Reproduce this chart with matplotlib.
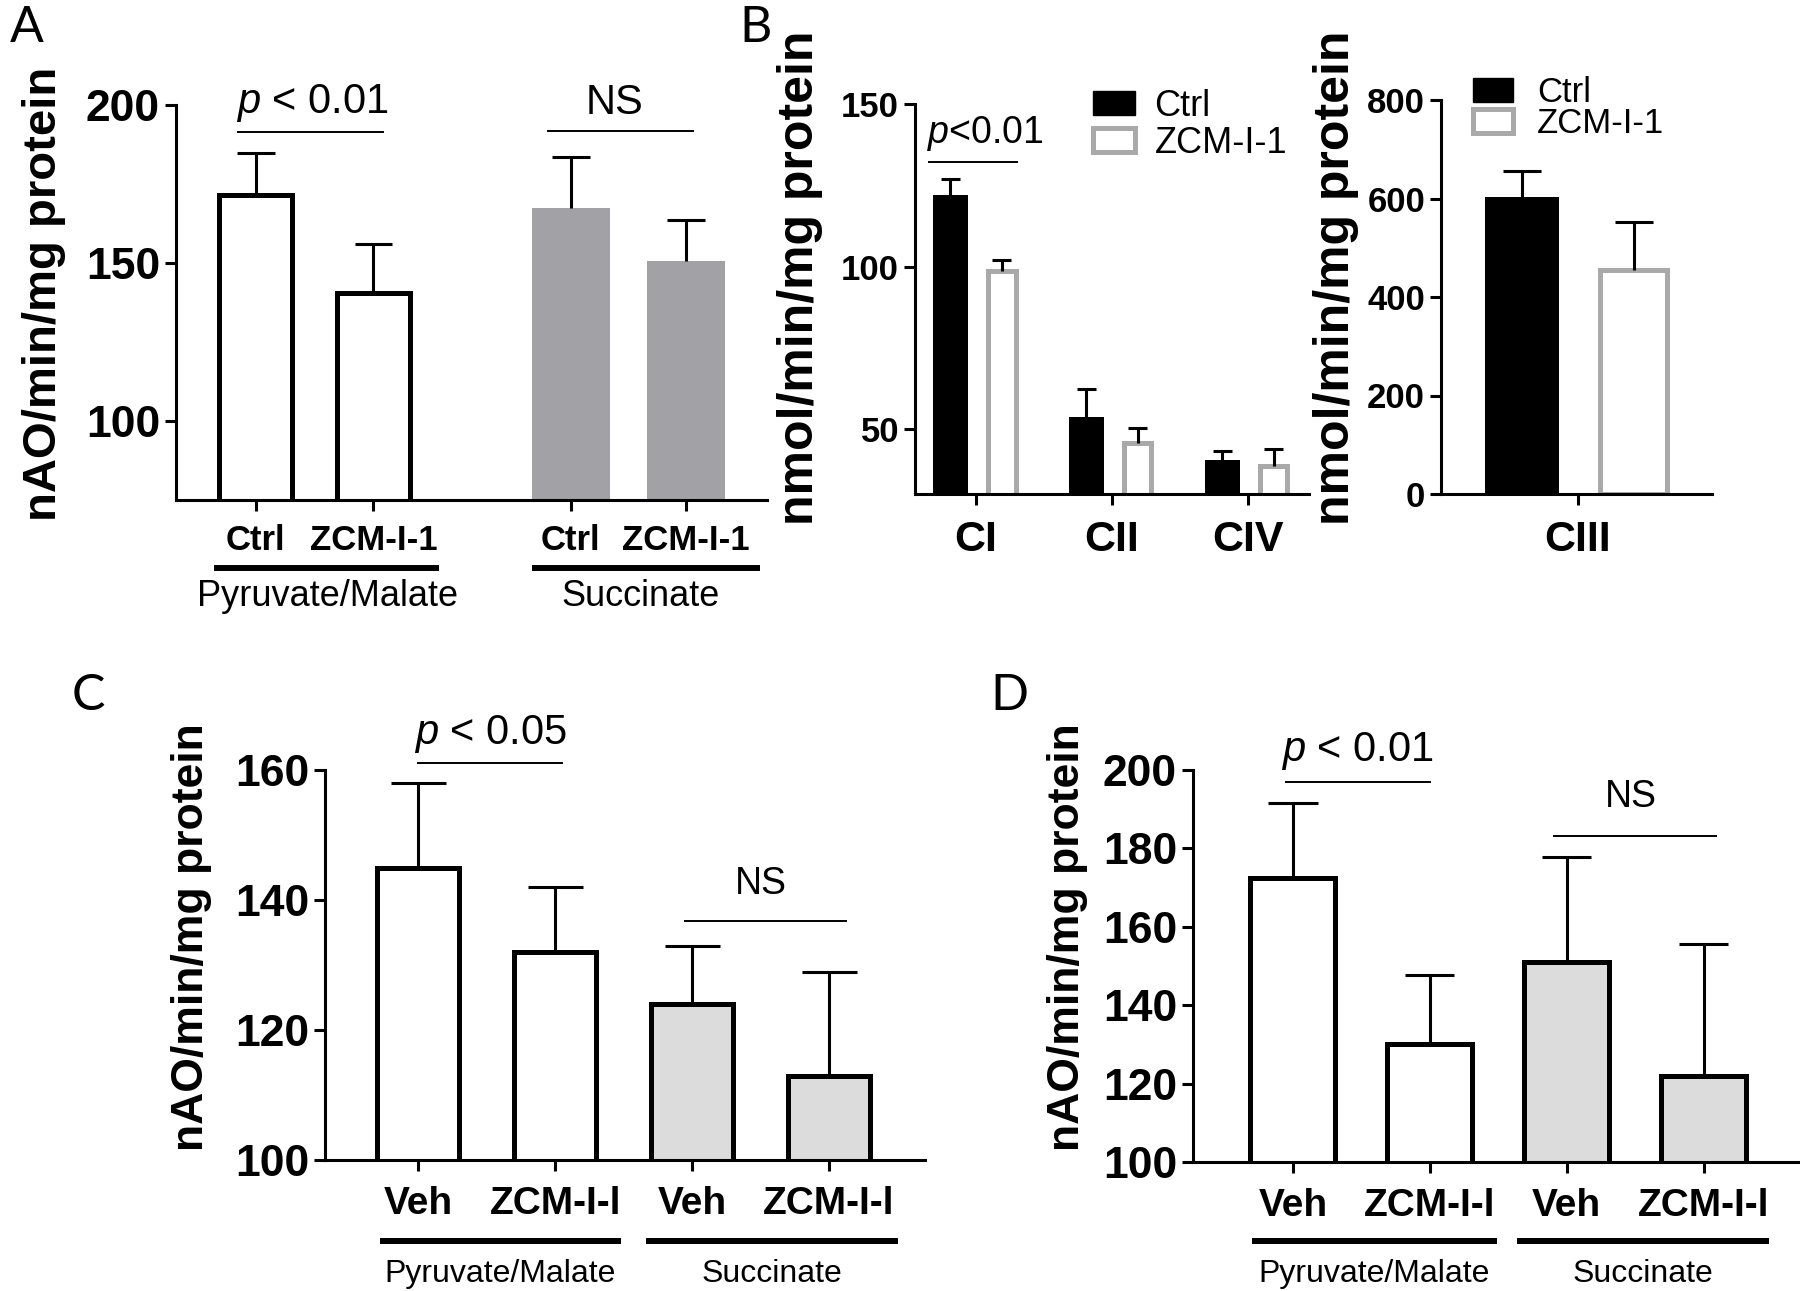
import matplotlib
matplotlib.use("Agg")
import matplotlib.pyplot as plt
import matplotlib.transforms as mtransforms
from matplotlib.patches import Patch

plt.rcParams['font.family'] = ['Liberation Sans', 'DejaVu Sans']
plt.rcParams['mathtext.fontset'] = 'custom'
plt.rcParams['mathtext.rm'] = 'Liberation Sans'
plt.rcParams['mathtext.it'] = 'Liberation Sans:italic'

# ---- data ----
# A : isolated mitochondria, Ctrl vs ZCM-I-1
a_labels = ["Ctrl", "ZCM-I-1", "Ctrl", "ZCM-I-1"]
a_groups = ["Pyruvate/Malate", "Succinate"]
a_mean = [171.5, 140.5, 167.3, 150.6]
a_sem = [13.3, 15.5, 16.2, 12.9]

# B : complex activities
b_cx = ["CI", "CII", "CIV"]
b_ctrl = [121.5, 53.0, 40.0]
b_ctrl_sem = [5.5, 9.3, 3.3]
b_zcm = [98.5, 45.7, 38.5]
b_zcm_sem = [3.5, 4.5, 5.5]
b3_cx = ["CIII"]
b3_ctrl = [600]
b3_ctrl_sem = [55]
b3_zcm = [455]
b3_zcm_sem = [97]
b_legend = ["Ctrl", "ZCM-I-1"]

# C and D : Veh vs ZCM-I-l
cd_labels = ["Veh", "ZCM-I-l", "Veh", "ZCM-I-l"]
cd_groups = ["Pyruvate/Malate", "Succinate"]
c_mean = [145, 132, 124, 113]
c_sem = [13, 10, 9, 16]
d_mean = [172.4, 130, 151, 122]
d_sem = [19.3, 17.8, 26.8, 33.5]

W, H = 1800, 1291
fig = plt.figure(figsize=(W / 100, H / 100), dpi=100)

GRAY_A = '#a2a2a6'
GRAY_B = '#a9a9a9'
GRAY_CD = '#dcdcdc'


def px_axes(left, right, top, bottom):
    return fig.add_axes([left / W, 1 - bottom / H, (right - left) / W, (bottom - top) / H])


def fy(py):
    return 1 - py / H


def style(ax, size, pad_x):
    ax.spines[['top', 'right']].set_visible(False)
    ax.spines[['left', 'bottom']].set_linewidth(2.2)
    ax.tick_params(width=2.2, length=8, labelsize=size)
    ax.tick_params(axis='x', pad=pad_x)
    for t in ax.get_yticklabels():
        t.set_fontweight('bold')


def errbars(ax, x, mean, sem, half):
    top = [m + s for m, s in zip(mean, sem)]
    ax.vlines(x, mean, top, color='k', lw=2.2, zorder=3)
    ax.hlines(top, [v - half for v in x], [v + half for v in x], color='k', lw=2.2, zorder=3)


def sig(ax, x0, x1, yline, xt, yt, text, size):
    ax.plot([x0, x1], [yline, yline], color='k', lw=1.4, clip_on=False)
    ax.text(xt, yt, text, ha='center', va='center', fontsize=size, clip_on=False)


def group(ax, x0, x1, yline, xt, yt, text, size):
    tr = mtransforms.blended_transform_factory(ax.transData, fig.transFigure)
    ax.plot([x0, x1], [fy(yline)] * 2, color='k', lw=4.3, transform=tr,
            clip_on=False, solid_capstyle='butt')
    ax.text(xt, fy(yt), text, transform=tr, ha='center', va='center', fontsize=size)


def ylabel(x, y, text, size):
    fig.text(x / W, fy(y), text, rotation=90, ha='center', va='center',
             fontsize=size, fontweight='bold')


# ---------------- A ----------------
axA = px_axes(176, 767, 105, 500)
posA = [0, 1, 2.68, 3.66]
axA.bar(posA[:2], a_mean[:2], width=0.62, facecolor='white', edgecolor='k', lw=3.6)
axA.bar(posA[2:], a_mean[2:], width=0.66, facecolor=GRAY_A, edgecolor='none')
errbars(axA, posA, a_mean, a_sem, 0.16)
axA.set_ylim(75, 200)
axA.set_xlim(-0.68, 4.35)
axA.set_yticks([100, 150, 200])
axA.set_xticks(posA, a_labels, fontweight='bold')
style(axA, 32, 9)
axA.tick_params(axis='x', labelsize=25)
sig(axA, -0.15, 1.08, 191.5, 0.48, 200.5, r'$p$ < 0.01', 30)
sig(axA, 2.49, 3.72, 191.8, 3.05, 200.5, 'NS', 30)
group(axA, -0.36, 1.56, 568, 0.61, 597, a_groups[0], 26)
group(axA, 2.35, 4.29, 568, 3.27, 597, a_groups[1], 26)
ylabel(44, 294, 'nAO/min/mg protein', 34)

# ---------------- B (CI, CII, CIV) ----------------
axB = px_axes(915, 1309, 104, 494)
posB = list(range(len(b_cx)))
off = 0.19
axB.bar([p - off for p in posB], b_ctrl, width=0.22, facecolor='k', edgecolor='k', lw=3.6)
axB.bar([p + off for p in posB], b_zcm, width=0.2, facecolor='white', edgecolor=GRAY_B, lw=3.6)
errbars(axB, [p - off for p in posB], b_ctrl, b_ctrl_sem, 0.07)
errbars(axB, [p + off for p in posB], b_zcm, b_zcm_sem, 0.07)
axB.set_ylim(30, 150)
axB.set_xlim(-0.45, 2.45)
axB.set_yticks([50, 100, 150])
axB.set_xticks(posB, b_cx, fontweight='bold')
style(axB, 25, 11)
axB.tick_params(axis='x', labelsize=31)
sig(axB, -0.35, 0.30, 132.3, 0.07, 141, r'$p$<0.01', 27)
handles = [Patch(facecolor='k', edgecolor='k'),
           Patch(facecolor='white', edgecolor=GRAY_B, lw=3.6)]
axB.legend(handles, b_legend, loc='upper left', bbox_to_anchor=(1093 / W, fy(89)),
           bbox_transform=fig.transFigure, frameon=False, fontsize=26,
           handlelength=1.15, handleheight=0.65, handletextpad=0.55,
           labelspacing=0.05, borderpad=0, borderaxespad=0)
ylabel(800, 278, 'nmol/min/mg protein', 36)

# ---------------- B (CIII) ----------------
axB3 = px_axes(1441, 1712, 100, 494)
axB3.bar([-0.5], b3_ctrl, width=0.62, facecolor='k', edgecolor='k', lw=3.6)
axB3.bar([0.5], b3_zcm, width=0.6, facecolor='white', edgecolor=GRAY_B, lw=3.6)
errbars(axB3, [-0.5], b3_ctrl, b3_ctrl_sem, 0.17)
errbars(axB3, [0.5], b3_zcm, b3_zcm_sem, 0.17)
axB3.set_ylim(0, 800)
axB3.set_xlim(-1.22, 1.2)
axB3.set_yticks([0, 200, 400, 600, 800])
axB3.set_xticks([0], b3_cx, fontweight='bold')
style(axB3, 25, 11)
axB3.tick_params(axis='x', labelsize=31)
axB3.legend(handles, b_legend, loc='upper left', bbox_to_anchor=(1473 / W, fy(76)),
            bbox_transform=fig.transFigure, frameon=False, fontsize=25,
            handlelength=1.15, handleheight=0.7, handletextpad=0.7,
            labelspacing=-0.05, borderpad=0, borderaxespad=0)
ylabel(1336, 278, 'nmol/min/mg protein', 36)

# ---------------- C ----------------
axC = px_axes(325, 925, 770, 1160)
posC = list(range(4))
axC.bar(posC[:2], c_mean[:2], width=0.6, facecolor='white', edgecolor='k', lw=3.6)
axC.bar(posC[2:], c_mean[2:], width=0.6, facecolor=GRAY_CD, edgecolor='k', lw=3.6)
errbars(axC, posC, c_mean, c_sem, 0.2)
axC.set_ylim(100, 160)
axC.set_xlim(-0.68, 3.7)
axC.set_yticks([100, 120, 140, 160])
axC.set_xticks(posC, cd_labels, fontweight='bold')
style(axC, 32, 11)
axC.tick_params(axis='x', labelsize=28)
sig(axC, 0.0, 1.05, 161.1, 0.53, 165.6, r'$p$ < 0.05', 30)
sig(axC, 1.95, 3.12, 136.7, 2.5, 142.5, 'NS', 27)
group(axC, -0.28, 1.48, 1241, 0.6, 1274, cd_groups[0], 23)
group(axC, 1.66, 3.5, 1241, 2.58, 1274, cd_groups[1], 23)
ylabel(192, 937, 'nAO/min/mg protein', 32)

# ---------------- D ----------------
axD = px_axes(1193, 1798, 770, 1162)
posD = list(range(4))
axD.bar(posD[:2], d_mean[:2], width=0.62, facecolor='white', edgecolor='k', lw=3.6)
axD.bar(posD[2:], d_mean[2:], width=0.62, facecolor=GRAY_CD, edgecolor='k', lw=3.6)
errbars(axD, posD, d_mean, d_sem, 0.18)
axD.set_ylim(100, 200)
axD.set_xlim(-0.73, 3.69)
axD.set_yticks([100, 120, 140, 160, 180, 200])
axD.set_xticks(posD, cd_labels, fontweight='bold')
style(axD, 32, 11)
axD.tick_params(axis='x', labelsize=28)
sig(axD, -0.05, 1.0, 196.9, 0.47, 204.8, r'$p$ < 0.01', 30)
sig(axD, 1.91, 3.09, 183.2, 2.47, 193.0, 'NS', 27)
group(axD, -0.3, 1.49, 1241, 0.59, 1274, cd_groups[0], 23)
group(axD, 1.64, 3.48, 1241, 2.56, 1274, cd_groups[1], 23)
ylabel(1068, 937, 'nAO/min/mg protein', 32)

# panel letters
for letter, x, y in [('A', 27, 28), ('B', 756, 28), ('C', 88, 696), ('D', 1009, 696)]:
    fig.text(x / W, fy(y), letter, ha='center', va='center', fontsize=36,
             family=['Lato', 'DejaVu Sans'])

fig.savefig('out.png', dpi=100)
